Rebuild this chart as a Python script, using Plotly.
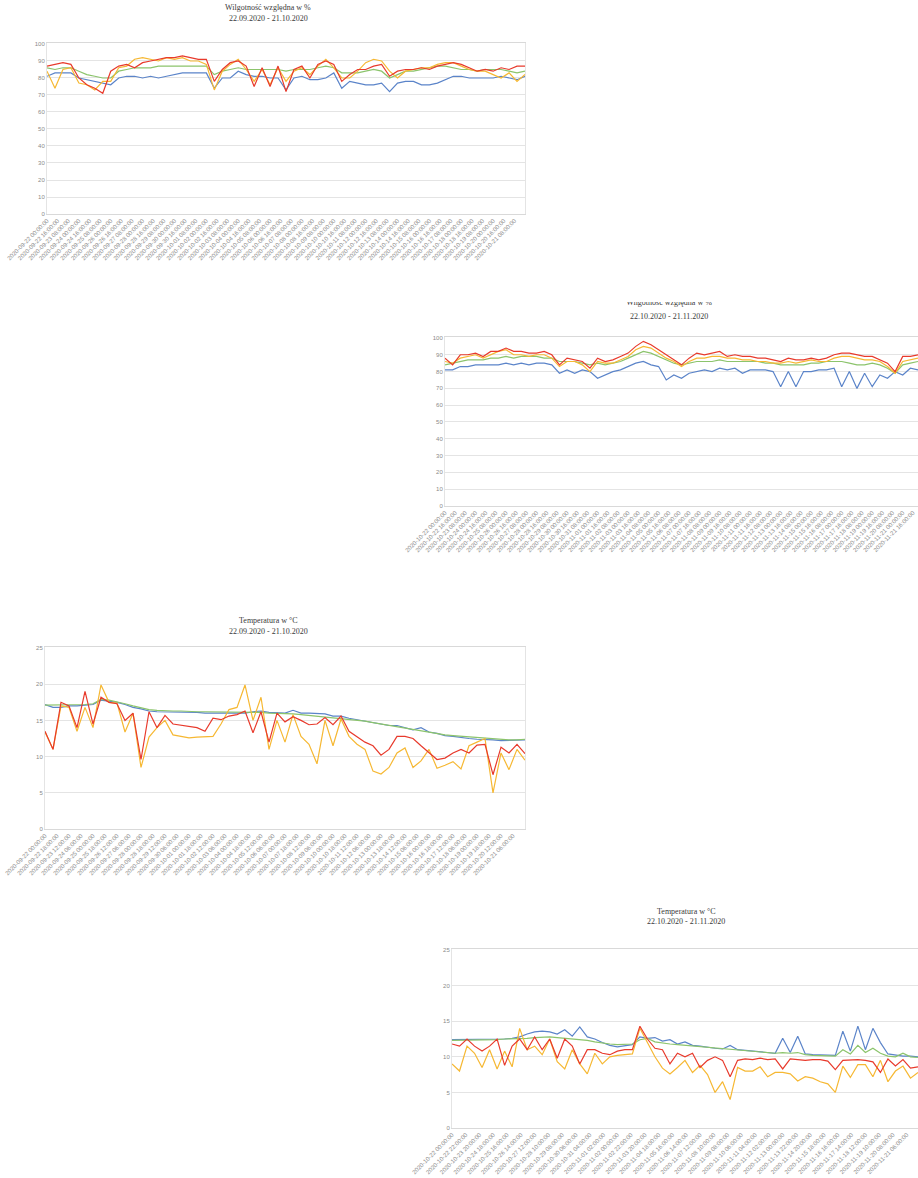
import plotly.graph_objects as go
import pandas as pd

W, H = 918, 1178
PAGE_OFFSET = 0  # body margin is removed by the post script below
STEP_H = 12  # hours between stored readings

# ---------------- Chart 1: humidity 22.09 - 21.10.2020 ----------------
hum1_blue = [81,83,83,83,80,79,78,77,76,80, 81,81,80,81,80,81,82,83,83,83,
             83,74,80,80,84,82,81,81,80,80, 73,80,81,79,79,80,83,74,78,77,
             76,76,77,72,77,78,78,76,76,77, 79,81,81,80,80,80,80,81,80,79,81]
hum1_red = [87,88,89,88,80,76,74,71,84,87, 88,86,89,90,91,92,92,93,92,91,
            91,78,85,89,90,87,75,86,75,87, 72,85,87,80,88,90,88,78,82,85,
            85,87,88,81,84,85,85,86,85,87, 88,89,88,86,84,85,84,86,85,87,87]
hum1_orange = [84,74,85,86,77,76,73,78,78,86, 87,91,92,91,90,92,91,92,90,90,
               88,73,84,88,91,85,78,85,76,86, 78,84,86,82,87,91,86,80,80,84,
               89,91,90,84,80,84,85,86,86,88, 89,89,87,85,84,84,82,80,83,78,82]
hum1_green = [86,85,86,86,84,82,81,80,80,84, 85,86,86,86,87,87,87,87,87,87,
              87,82,84,85,86,85,85,85,85,85, 84,85,85,85,86,87,86,83,83,83,
              84,85,84,80,82,84,84,85,86,87, 87,86,85,85,84,85,85,85,84,83,84]

# ---------------- Chart 2: humidity 22.10 - 21.11.2020 ----------------
hum2_blue = [81,81,83,83,84,84,84,84,85,84, 85,84,85,85,84,79,81,79,81,80,
             76,78,80,81,83,85,86,84,83,75, 78,76,79,80,81,80,82,81,82,79,
             81,81,81,80,71,80,71,80,80,81, 81,82,71,80,70,79,71,78,76,80,
             78,82,81]
hum2_red = [88,84,90,90,91,89,92,92,94,92, 92,91,91,92,90,84,88,87,86,82,
            88,86,87,89,91,95,98,96,93,90, 87,84,88,91,90,91,92,89,90,89,
            89,88,88,87,86,88,87,87,88,87, 88,90,91,91,90,89,89,87,85,80,
            89,89,90]
hum2_orange = [86,85,88,89,90,88,90,92,93,90, 90,89,90,90,88,83,86,86,84,80,
               86,85,85,87,89,93,95,94,91,88, 86,83,86,88,88,89,89,88,88,87,
               87,86,86,85,85,86,85,86,87,86, 86,88,89,89,88,87,87,86,83,79,
               86,87,88]
hum2_green = [84,85,86,87,87,87,88,88,89,88, 89,89,89,88,88,86,86,86,85,84,
              85,84,85,86,88,90,92,91,89,87, 85,84,85,86,86,86,87,86,86,86,
              86,86,85,85,84,84,84,84,85,85, 86,86,86,85,84,84,85,84,82,79,
              84,85,86]

# ---------------- Chart 3: temperature 22.09 - 21.10.2020 ----------------
tmp1_blue = [17.2,16.8,16.8,17.0,17.0,17.1,17.2,17.8,17.7,17.5, 17.2,16.8,16.6,16.3,16.2,16.2,16.2,16.1,16.1,16.1,
             16.0,16.0,15.9,15.9,15.9,16.0,16.2,16.3,16.1,16.0, 16.0,16.4,16.0,16.0,15.9,15.9,15.6,15.6,15.3,15.1,
             15.0,14.8,14.5,14.3,14.3,14.0,13.7,14.0,13.4,13.2, 12.9,12.8,12.6,12.5,12.4,12.4,12.3,12.2,12.2,12.2,12.3]
tmp1_red = [13.5,11.0,17.5,17.0,14.0,19.0,14.5,18.2,17.5,17.3, 15.0,16.0,9.6,16.2,14.0,15.7,14.5,14.3,14.2,14.0,
            13.5,15.3,15.1,15.6,15.8,16.3,13.3,16.2,12.0,16.0, 14.8,15.5,15.0,14.4,14.5,15.4,14.4,15.6,13.5,12.8,
            12.0,11.5,10.2,11.0,12.8,12.8,12.5,11.5,10.5,9.6, 9.8,10.5,11.0,10.5,11.6,11.7,7.5,11.3,10.5,11.7,10.4]
tmp1_orange = [13.4,11.0,17.0,16.8,13.5,16.8,14.0,19.9,17.5,17.4, 13.4,16.0,8.5,12.7,14.0,15.0,13.0,12.8,12.6,12.7,
               12.8,12.8,14.5,16.5,16.8,19.9,15.0,18.2,11.0,15.0, 12.0,15.8,12.8,11.7,9.0,15.0,11.5,15.2,12.8,11.7,
               11.0,8.0,7.6,8.5,10.5,11.2,8.5,9.4,11.0,8.4, 8.8,9.3,8.3,11.5,12.0,12.5,5.0,10.5,8.2,11.0,9.5]
tmp1_green = [17.1,17.1,17.2,17.2,17.2,17.2,17.3,17.9,17.8,17.6, 17.3,17.0,16.7,16.5,16.4,16.3,16.3,16.3,16.2,16.2,
              16.2,16.2,16.1,16.1,16.1,16.1,16.1,16.1,16.0,16.0, 15.9,15.9,15.8,15.7,15.6,15.5,15.4,15.3,15.2,15.0,
              14.9,14.7,14.5,14.3,14.1,13.9,13.7,13.5,13.3,13.2, 13.0,12.9,12.8,12.7,12.6,12.5,12.4,12.4,12.3,12.3,12.4]

# ---------------- Chart 4: temperature 22.10 - 21.11.2020 ----------------
tmp2_blue = [12.4,12.4,12.4,12.4,12.4,12.4,12.5,12.5,12.6,12.8, 13.2,13.5,13.6,13.5,13.2,13.8,12.9,14.2,12.8,12.5,
             12.0,11.6,11.4,11.6,11.7,12.8,12.6,12.7,12.2,12.4, 11.8,12.1,11.6,11.5,11.3,11.2,11.1,11.6,11.0,10.9,
             10.8,10.7,10.6,10.5,12.6,10.6,12.9,10.4,10.3,10.3, 10.2,10.2,13.6,10.8,14.3,11.0,14.0,12.0,10.4,10.2,
             10.1,10.1,10.0]
tmp2_red = [11.8,11.5,12.5,11.5,10.8,11.5,12.5,8.8,11.5,12.5, 11.0,12.8,11.0,12.5,9.8,12.5,11.5,9.0,11.0,11.0,
            10.5,10.3,10.8,11.0,11.0,14.3,12.5,11.2,11.0,9.0, 10.5,10.0,10.5,8.5,9.5,10.0,9.5,7.2,9.5,9.7,
            9.6,9.8,9.6,9.7,8.3,9.7,9.6,9.5,9.6,9.6, 9.4,8.2,9.5,9.6,9.6,9.5,9.3,7.8,9.7,8.7,
            9.6,8.4,8.6]
tmp2_orange = [9.0,8.0,11.5,10.5,8.5,11.0,8.3,10.8,8.6,14.0, 11.0,11.5,10.3,12.5,9.3,8.3,11.0,9.0,7.6,10.5,
               9.0,10.0,10.2,10.3,10.4,14.0,12.0,10.0,8.4,7.6, 8.5,9.5,7.8,8.8,7.5,5.0,6.5,4.0,8.5,8.0,
               8.0,8.6,7.2,7.8,7.8,7.6,6.6,7.2,7.0,6.5, 6.2,5.0,8.7,7.1,8.9,8.9,7.2,9.5,6.5,8.0,
               8.7,7.0,7.8]
tmp2_green = [12.3,12.3,12.4,12.4,12.4,12.4,12.4,12.5,12.5,12.5, 12.6,12.7,12.8,12.8,12.7,12.6,12.5,12.5,12.3,12.1,
              11.9,11.8,11.7,11.7,11.8,12.4,12.6,12.1,11.9,11.8, 11.7,11.6,11.5,11.4,11.3,11.2,11.1,11.1,11.0,10.9,
              10.8,10.7,10.6,10.5,10.6,10.5,10.6,10.3,10.2,10.2, 10.1,10.1,11.0,10.4,11.6,10.6,11.2,10.5,10.1,10.0,
              10.5,10.0,9.9]

# ---------------- Titles and category (tick) labels ----------------
title_hum = "Wilgotność względna w %"
title_tmp = "Temperatura w °C"
period1 = "22.09.2020 - 21.10.2020"
period2 = "22.10.2020 - 21.11.2020"


def make_labels(start, count, step_h):
    return [d.strftime("%Y-%m-%d %H:%M:%S")
            for d in pd.date_range(start, periods=count, freq=pd.Timedelta(hours=step_h))]


labels_hum1 = make_labels("2020-09-22 00:00", 45, 16)
labels_hum2 = make_labels("2020-10-22 00:00", 47, 16)
labels_tmp1 = make_labels("2020-09-22 00:00", 40, 18)
labels_tmp2 = make_labels("2020-10-22 00:00", 34, 22)

COLORS = {"blue": "#5b84c9", "green": "#8cc46c", "orange": "#f6b833", "red": "#e83a2c"}
TITLE_FONT = dict(family="Liberation Serif", size=8, color="#3a3a3a")
TICK_FONT = dict(family="Liberation Sans", size=6, color="#8a8a8a")


def fx(x):
    return (x - PAGE_OFFSET) / W


def fy(y):
    return 1 - (y - PAGE_OFFSET) / H


def px(x0, x1, y_top, y_bot):
    return [fx(x0), min(fx(x1), 1.0)], [fy(y_bot), fy(y_top)]


charts = [
    dict(series=[("blue", hum1_blue), ("green", hum1_green), ("orange", hum1_orange), ("red", hum1_red)],
         labels=labels_hum1, step=16, yrange=[0, 100.4], dtick=10,
         box=px(47, 525, 43.3, 214), title=(title_hum, period1), tcx=268, tcy=(8, 19)),
    dict(series=[("blue", hum2_blue), ("green", hum2_green), ("orange", hum2_orange), ("red", hum2_red)],
         labels=labels_hum2, step=16, yrange=[0, 100.4], dtick=10,
         box=px(445, 918, 337.3, 506), title=(None, period2), tcx=669, tcy=(304, 316)),
    dict(series=[("blue", tmp1_blue), ("green", tmp1_green), ("orange", tmp1_orange), ("red", tmp1_red)],
         labels=labels_tmp1, step=18, yrange=[0, 25.1], dtick=5,
         box=px(45, 525, 647.3, 829), title=(title_tmp, period1), tcx=268, tcy=(620, 631)),
    dict(series=[("blue", tmp2_blue), ("green", tmp2_green), ("orange", tmp2_orange), ("red", tmp2_red)],
         labels=labels_tmp2, step=22, yrange=[0, 25.1], dtick=5,
         box=px(452, 918, 949.3, 1128), title=(title_tmp, period2), tcx=686, tcy=(911, 922)),
]

fig = go.Figure()
annotations = []
layout_axes = {}
for k, ch in enumerate(charts, start=1):
    xa = "x" if k == 1 else f"x{k}"
    ya = "y" if k == 1 else f"y{k}"
    n = len(ch["series"][0][1])
    hours = [i * STEP_H for i in range(n)]
    for name, vals in ch["series"]:
        fig.add_trace(go.Scatter(x=hours, y=vals, mode="lines", xaxis=xa, yaxis=ya,
                                 line=dict(color=COLORS[name], width=1.2), showlegend=False,
                                 hoverinfo="skip"))
    xdom, ydom = ch["box"]
    tickvals = [j * ch["step"] for j in range(len(ch["labels"]))]
    layout_axes["xaxis" if k == 1 else f"xaxis{k}"] = dict(
        domain=xdom, anchor=ya, range=[0, hours[-1]], tickmode="array",
        tickvals=tickvals, ticktext=ch["labels"], tickangle=-45, automargin=False,
        tickfont=TICK_FONT, showgrid=False, zeroline=False, showline=True,
        linecolor="#d9d9d9", linewidth=1, mirror=True, ticks="", fixedrange=True)
    layout_axes["yaxis" if k == 1 else f"yaxis{k}"] = dict(
        domain=ydom, anchor=xa, range=ch["yrange"], tick0=0, dtick=ch["dtick"], automargin=False,
        tickfont=TICK_FONT, showgrid=True, gridcolor="#e4e4e4", gridwidth=1, zeroline=False,
        showline=True, linecolor="#e4e4e4", mirror=True, ticks="", ticklen=0,
        fixedrange=True)
    t1, t2 = ch["title"]
    for txt, yy in zip((t1, t2), ch["tcy"]):
        if txt is None:
            continue
        annotations.append(dict(text=txt, x=fx(ch["tcx"]), y=fy(yy), xref="paper", yref="paper",
                                xanchor="center", yanchor="middle", showarrow=False, font=TITLE_FONT))

# First title line of chart 2 is only half visible in the source (cut at its top):
# draw it as text clipped by a hidden axis area whose top edge is at y = 302 px.
fig.add_trace(go.Scatter(x=[0.5], y=[0.0], mode="text", text=[title_hum], textposition="middle center",
                         textfont=TITLE_FONT, cliponaxis=True, xaxis="x5", yaxis="y5",
                         showlegend=False, hoverinfo="skip"))
layout_axes["xaxis5"] = dict(domain=[fx(569), fx(769)], range=[0, 1], visible=False,
                             anchor="y5", fixedrange=True)
layout_axes["yaxis5"] = dict(domain=[fy(312), fy(302)], range=[-1.0, 0.1],
                             visible=False, anchor="x5", fixedrange=True)

fig.update_layout(template="none", width=W, height=H,
                  margin=dict(l=0, r=0, t=0, b=0, autoexpand=False),
                  paper_bgcolor="white", plot_bgcolor="white", hovermode=False,
                  annotations=annotations, showlegend=False, **layout_axes)

fig.write_html("out.html", config={"displayModeBar": False, "staticPlot": True},
               post_script="document.body.style.margin='0px';")
